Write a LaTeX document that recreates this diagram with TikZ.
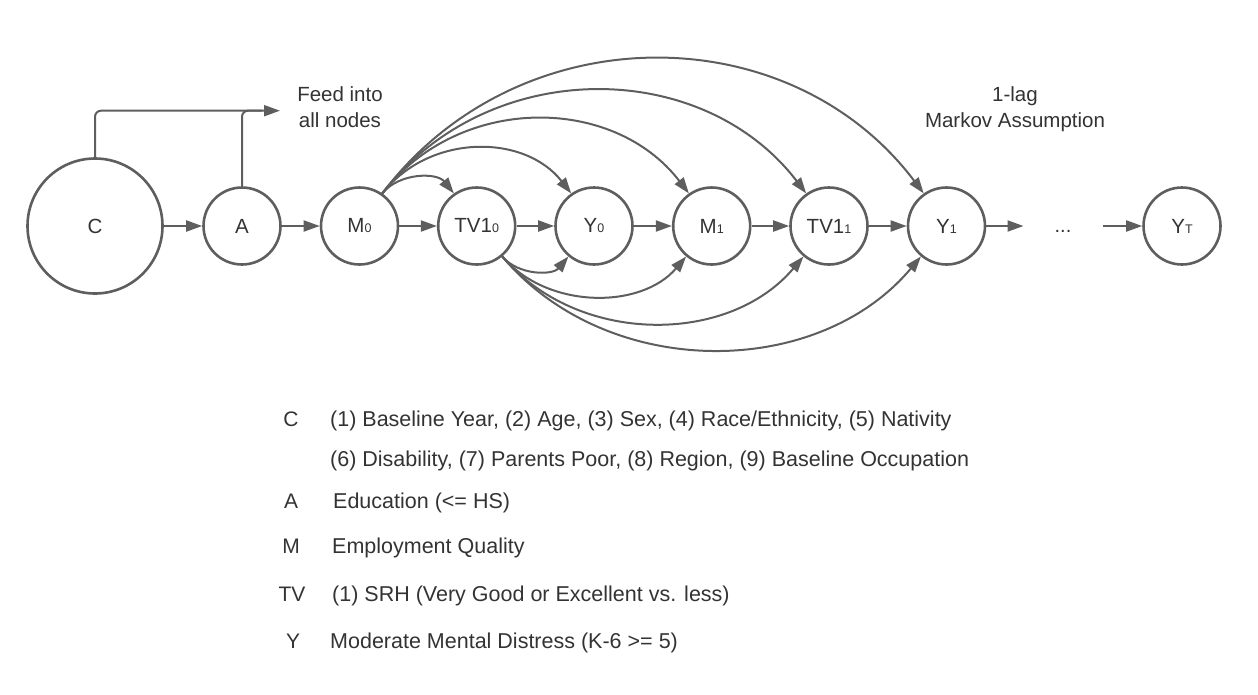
\documentclass[tikz,border=0pt]{standalone}
\usepackage{fontspec}
\setmainfont{Liberation Sans}
\usetikzlibrary{arrows.meta}
\definecolor{ln}{HTML}{5E5E5E}
\definecolor{tx}{HTML}{333333}
\newcommand{\sbs}[1]{{\fontsize{12.5}{12.5}\selectfont #1}}
\begin{document}
\begin{tikzpicture}[x=1pt,y=-1pt,
  nd/.style={circle,draw=ln,line width=2.6pt,minimum size=77pt,inner sep=0pt,text=tx,font=\fontsize{20.5}{24}\selectfont},
  arr/.style={draw=ln,line width=2pt,-{Triangle[length=16pt,width=11pt]}},
  plain/.style={draw=ln,line width=2pt},
  lab/.style={text=tx,font=\fontsize{20.5}{26}\selectfont,align=center,inner sep=0pt,anchor=base},
  leg/.style={text=tx,font=\fontsize{21.5}{24}\selectfont,anchor=base west,inner sep=0pt},
  legk/.style={text=tx,font=\fontsize{21}{24}\selectfont,anchor=base,inner sep=0pt}]
\useasboundingbox (0,0) rectangle (1258,694);
% nodes
\node[nd,minimum size=135pt] (C) at (95,226) {C};
\node[nd] (A) at (242,226) {A};
\node[nd] (M0) at (359.5,226) {M\sbs{0}};
\node[nd] (TV10) at (476.7,226) {TV1\sbs{0}};
\node[nd] (Y0) at (594,226) {Y\sbs{0}};
\node[nd] (M1) at (711.7,226) {M\sbs{1}};
\node[nd] (TV11) at (829,226) {TV1\sbs{1}};
\node[nd] (Y1) at (946.5,226) {Y\sbs{1}};
\node[minimum width=79pt,inner sep=0pt,outer sep=0pt,text=tx,font=\fontsize{20}{24}\selectfont] (dots) at (1063,226) {\vphantom{Y}...};
\node[nd] (YT) at (1182,226) {Y\sbs{T}};
% labels
\node[lab] (feed) at (340,127.7) {Feed into\\all nodes};
\node[lab] (markov) at (1015,127) {1-lag\\Markov Assumption};
% feed lines
\coordinate (ft) at (280,110.7);
\coordinate (fj) at (262,110.7);
\draw[arr,rounded corners=6pt] (C.north) |- (ft);
\draw[plain,rounded corners=6pt] (A.north) |- (fj);
% chain
\draw[arr] (C) -- (A);
\draw[arr] (A) -- (M0);
\draw[arr] (M0) -- (TV10);
\draw[arr] (TV10) -- (Y0);
\draw[arr] (Y0) -- (M1);
\draw[arr] (M1) -- (TV11);
\draw[arr] (TV11) -- (Y1);
\draw[arr] (Y1) -- (dots);
\draw[arr] (dots) -- (YT);
% upper arcs
\draw[arr] (M0.55) .. controls +(17,-21) and +(-17,-21) .. (TV10.125);
\draw[arr] (M0.55) .. controls +(47,-60) and +(-47,-60) .. (Y0.125);
\draw[arr] (M0.55) .. controls +(76,-99) and +(-76,-99) .. (M1.125);
\draw[arr] (M0.55) .. controls +(105,-137) and +(-105,-137) .. (TV11.125);
\draw[arr] (M0.55) .. controls +(135,-179) and +(-135,-179) .. (Y1.125);
% lower arcs
\draw[arr] (TV10.-50) .. controls +(16,19) and +(-16,19) .. (Y0.-130);
\draw[arr] (TV10.-50) .. controls +(45,53) and +(-45,53) .. (M1.-130);
\draw[arr] (TV10.-50) .. controls +(75,89) and +(-75,89) .. (TV11.-130);
\draw[arr] (TV10.-50) .. controls +(104,124) and +(-104,124) .. (Y1.-130);
% legend
\node[legk] (kC) at (291,426.7) {C};
\node[leg] (tC1) at (330,426.7) {(1) Baseline Year, (2) Age, (3) Sex, (4) Race/Ethnicity, (5) Nativity};
\node[leg] (tC2) at (330,466.7) {(6) Disability, (7) Parents Poor, (8) Region, (9) Baseline Occupation};
\node[legk] (kA) at (291,508.3) {A};
\node[leg] (tA) at (333,508.3) {Education (<= HS)};
\node[legk] (kM) at (291,553.3) {M};
\node[leg] (tM) at (332,553.3) {Employment Quality};
\node[legk] (kTV) at (292,601) {TV};
\node[leg] (tTV) at (332,601) {(1) SRH (Very Good or Excellent vs. less)};
\node[legk] (kY) at (293,648.3) {Y};
\node[leg] (tY) at (330,648.3) {Moderate Mental Distress (K-6 >= 5)};
\end{tikzpicture}
\end{document}
